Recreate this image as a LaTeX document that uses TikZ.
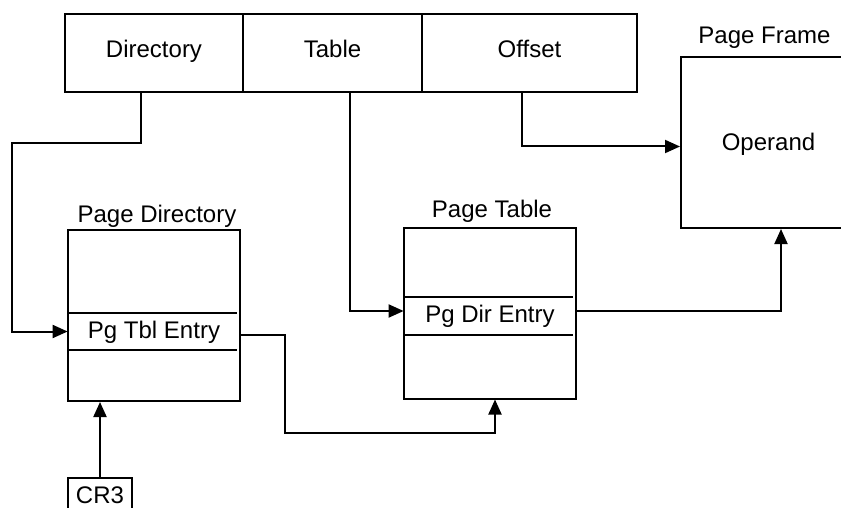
\documentclass[tikz,border=0pt]{standalone}
\usepackage{fontspec}
\setmainfont{Liberation Sans}
\usepackage{tikz}
\usetikzlibrary{positioning,arrows.meta}
\tikzstyle{field} = [
rectangle,
draw=black,
line width=1pt,
inner sep=0pt,
outer sep=0pt,
minimum height=39pt,
text height=9pt,
text depth=4.5pt,
text centered
]
\tikzstyle{table} = [
rectangle,
draw=black,
line width=1pt,
inner sep=0pt,
minimum width=86pt,
minimum height=85.5pt
]
\tikzstyle{entry} = [
rectangle,
inner sep=0pt,
minimum width=86pt,
minimum height=18.5pt,
text height=9pt,
text depth=2.5pt,
text centered
]
\tikzstyle{caption} = [
inner sep=0pt
]
\tikzstyle{arrow} = [
line width=1pt,
-{Triangle[length=7.5pt,width=6.5pt]}
]

\begin{document}
\begin{tikzpicture}[x=0.5pt,y=-0.5pt,font=\fontsize{12}{14}\selectfont]
					\useasboundingbox (0,0) rectangle (841,508);
					%Nodes
					\node[field,minimum width=89pt] (dir) at (154,53) {Directory};
					\node[field,minimum width=89.5pt,right=0pt of dir] (tbl) {Table};
					\node[field,minimum width=107.5pt,right=0pt of tbl] (off) {Offset};
					\node[table,minimum width=87.5pt,anchor=north west,text height=9pt,text depth=0.5pt] (pfr) at (680,56) {Operand};
					\node[caption,above=3.5pt of pfr,xshift=-2pt] (pfrlbl) {Page Frame};
					\node[table] (pdir) at (154,315.5) {};
					\node[entry] (pte) at (154,331.5) {Pg Tbl Entry};
					\node[caption,above=0.5pt of pdir,xshift=1.5pt] (pdirlbl) {Page Directory};
					\node[table] (ptab) at (490,313) {};
					\node[entry] (pde) at (490,316) {Pg Dir Entry};
					\node[caption,above=2pt of ptab,xshift=1pt] (ptablbl) {Page Table};
					\node[rectangle,draw=black,line width=1pt,inner sep=0pt,minimum width=32pt,minimum height=17pt] (cr3) at (100,495) {CR3};
					%Entry rows
					\draw[line width=1pt] (pte.north west) -- ([xshift=-1.5pt]pte.north east);
					\draw[line width=1pt] (pte.south west) -- ([xshift=-1.5pt]pte.south east);
					\draw[line width=1pt] (pde.north west) -- ([xshift=-1.5pt]pde.north east);
					\draw[line width=1pt] (pde.south west) -- ([xshift=-1.5pt]pde.south east);
					%Arrows
					\draw[arrow] ([xshift=-6.5pt]dir.south) -- ++(0,51) -| ([xshift=-28pt]pte.west) -- (pte.west);
					\draw[arrow] ([xshift=8.75pt]tbl.south) |- ([yshift=2.5pt]pde.west);
					\draw[arrow] ([xshift=-3.75pt]off.south) |- ([yshift=-2pt]pfr.west);
					\draw[arrow] ([yshift=-1.75pt]pte.east) -- ++(45,0) -- ++(0,98) -| ([xshift=2.5pt]ptab.south);
					\draw[arrow] ([yshift=2.5pt]pde.east) -| ([xshift=6.25pt]pfr.south);
					\draw[arrow] (cr3.north) -- (cr3.north |- pdir.south);
				\end{tikzpicture}
\end{document}
